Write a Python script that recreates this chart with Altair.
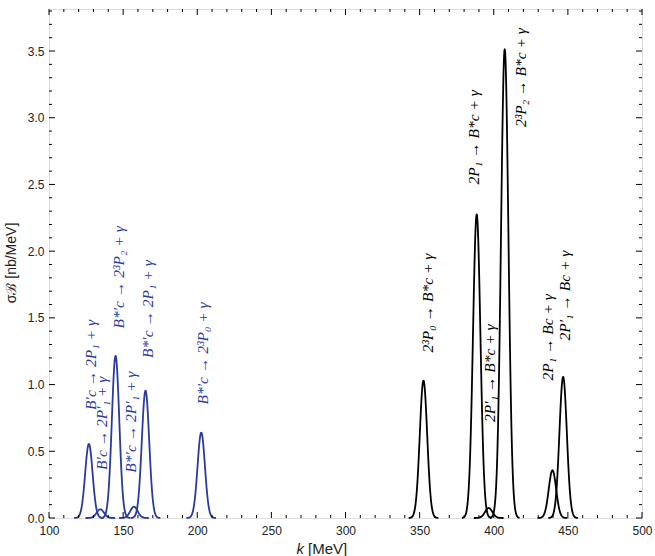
import altair as alt
import numpy as np
import pandas as pd

# ---- data ----
blue_centers = [126.9, 134.6, 144.9, 157.3, 165.1, 202.7]
blue_heights = [0.555, 0.065, 1.215, 0.085, 0.955, 0.640]
black_centers = [352.6, 388.5, 396.6, 407.4, 439.6, 446.8]
black_heights = [1.030, 2.275, 0.075, 3.515, 0.358, 1.058]
peak_sigma = 2.5

label_texts = [
    "B′c → 2P₁ + γ", "B′c → 2P′₁ + γ", "B*′c → 2³P₂ + γ",
    "B*′c → 2P′₁ + γ", "B*′c → 2P₁ + γ", "B*′c → 2³P₀ + γ",
    "2³P₀ → B*c + γ", "2P₁ → B*c + γ", "2P′₁ → B*c + γ",
    "2³P₂ → B*c + γ", "2P₁ → Bc + γ", "2P′₁ → Bc + γ",
]
label_k = [128.0, 135.6, 146.9, 155.2, 166.5, 203.6,
           355.5, 386.5, 397.4, 418.3, 436.5, 448.0]
label_y = [0.81, 0.36, 1.42, 0.34, 1.20, 0.85,
           1.24, 2.50, 0.72, 2.93, 1.03, 1.33]
label_group = ["blue"] * 6 + ["black"] * 6

x_major = [100, 150, 200, 250, 300, 350, 400, 450, 500]
x_minor = [v for v in range(100, 501, 10) if v % 50 != 0]
y_major = [0.0, 0.5, 1.0, 1.5, 2.0, 2.5, 3.0, 3.5]
y_minor = [round(v * 0.1, 1) for v in range(0, 39) if v % 5 != 0]

BLUE = "#2b3a9e"
W, H = 593, 509
XDOM = [100, 500]
YDOM = [0, 3.815]

# ---- build curve table from peak parameters ----
rows = []
pid = 0
for grp, cs, hs in (("blue", blue_centers, blue_heights), ("black", black_centers, black_heights)):
    for c, h in zip(cs, hs):
        ks = np.linspace(c - 4 * peak_sigma, c + 4 * peak_sigma, 121)
        for kk in ks:
            rows.append({"k": float(kk), "s": float(h * np.exp(-0.5 * ((kk - c) / peak_sigma) ** 2)),
                         "peak": pid, "grp": grp})
        pid += 1
curves = pd.DataFrame(rows)

labels = pd.DataFrame({"t": label_texts, "k": label_k, "y": label_y, "grp": label_group})

xs = alt.Scale(domain=XDOM, nice=False, zero=False)
ys = alt.Scale(domain=YDOM, nice=False, zero=False)
color = alt.Color("grp:N", scale=alt.Scale(domain=["blue", "black"], range=[BLUE, "#000000"]), legend=None)

base_x = alt.X("k:Q", scale=xs,
               axis=alt.Axis(values=x_major, ticks=False, domain=False, grid=False, title=None,
                             labelFont="Liberation Sans", labelFontSize=12, labelColor="#222",
                             labelPadding=7, labelFlush=False, format="d"))
base_y = alt.Y("s:Q", scale=ys,
               axis=alt.Axis(values=y_major, ticks=False, domain=False, grid=False, title=None,
                             labelFont="Liberation Sans", labelFontSize=12, labelColor="#222",
                             labelPadding=5, labelFlush=False, format=".1f"))

lines = alt.Chart(curves).mark_line(strokeWidth=1.8, interpolate="monotone").encode(
    x=base_x, y=base_y, detail="peak:N", color=color)

text = alt.Chart(labels).mark_text(angle=270, align="left", baseline="middle",
                                   font="Liberation Serif", fontStyle="italic", fontSize=15.5).encode(
    x=alt.X("k:Q", scale=xs), y=alt.Y("y:Q", scale=ys), text="t:N", color=color)

def xticks(vals, length):
    df = pd.DataFrame({"v": vals})
    bot = alt.Chart(df).mark_rule(color="black", strokeWidth=1).encode(
        x=alt.X("v:Q", scale=xs), y=alt.value(H), y2=alt.value(H - length))
    top = alt.Chart(df).mark_rule(color="black", strokeWidth=1).encode(
        x=alt.X("v:Q", scale=xs), y=alt.value(0), y2=alt.value(length))
    return bot + top

def yticks(vals, length):
    df = pd.DataFrame({"v": vals})
    left = alt.Chart(df).mark_rule(color="black", strokeWidth=1).encode(
        y=alt.Y("v:Q", scale=ys), x=alt.value(0), x2=alt.value(length))
    right = alt.Chart(df).mark_rule(color="black", strokeWidth=1).encode(
        y=alt.Y("v:Q", scale=ys), x=alt.value(W), x2=alt.value(W - length))
    return left + right

titles = pd.DataFrame({"t": ["σℬ [nb/MeV]"]})
ytitle = alt.Chart(titles).mark_text(angle=270, align="center", baseline="middle",
                                     font="Liberation Sans", fontSize=14, color="#222").encode(
    x=alt.value(-37), y=alt.value(254), text="t:N")
xt1 = alt.Chart(pd.DataFrame({"t": ["k"]})).mark_text(
    align="right", baseline="middle", font="Liberation Sans", fontStyle="italic",
    fontSize=15, color="#222").encode(x=alt.value(255), y=alt.value(H + 31), text="t:N")
xt2 = alt.Chart(pd.DataFrame({"t": ["[MeV]"]})).mark_text(
    align="left", baseline="middle", font="Liberation Sans",
    fontSize=15, color="#222").encode(x=alt.value(259), y=alt.value(H + 31), text="t:N")

chart = alt.layer(
    lines, text,
    xticks(x_major, 6), xticks(x_minor, 3),
    yticks(y_major, 6), yticks(y_minor, 3),
    ytitle, xt1, xt2,
).properties(
    width=W, height=H,
    autosize=alt.AutoSizeParams(type="none"),
    padding={"left": 49, "top": 9, "right": 13, "bottom": 38},
).configure_view(stroke="black", strokeWidth=1.2).configure(background="white")

chart.save("out.html", embed_options={"renderer": "svg", "actions": False})
